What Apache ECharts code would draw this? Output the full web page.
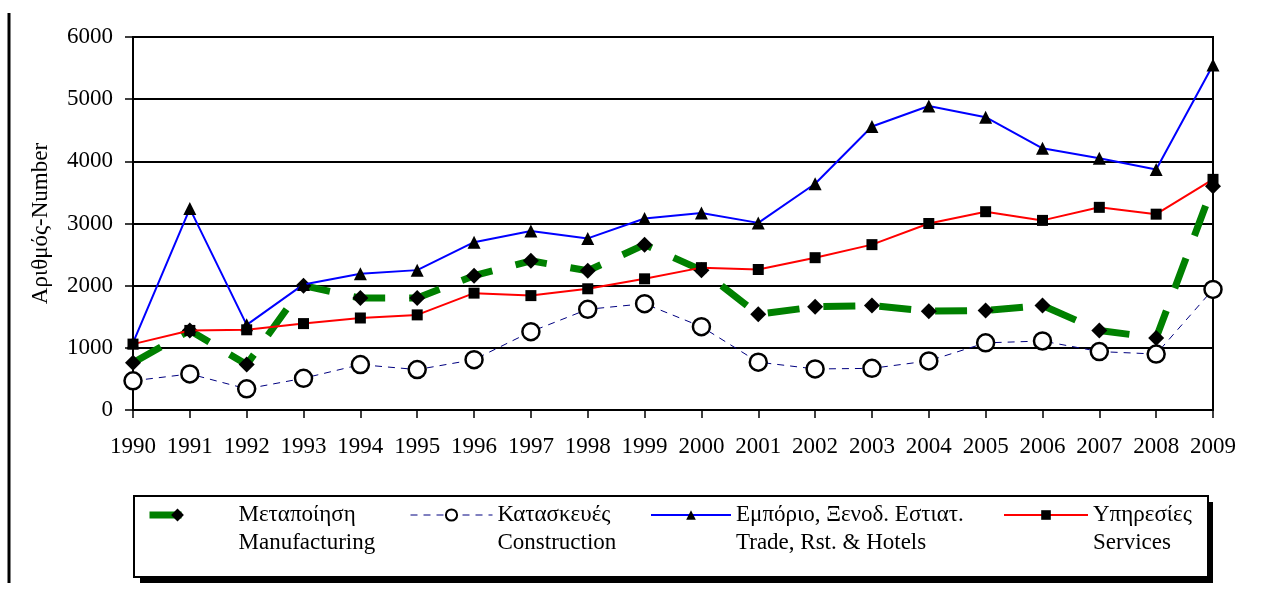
<!DOCTYPE html>
<html>
<head>
<meta charset="utf-8">
<script src="https://cdn.jsdelivr.net/npm/echarts@6/dist/echarts.min.js"></script>
<style>
html,body{margin:0;padding:0;background:#fff;}
#c{width:1268px;height:590px;}
</style>
</head>
<body>
<div id="c"></div>
<script>
const years = ['1990','1991','1992','1993','1994','1995','1996','1997','1998','1999','2000','2001','2002','2003','2004','2005','2006','2007','2008','2009'];
const manufacturing = [760,1280,730,2000,1800,1800,2160,2400,2240,2660,2250,1540,1660,1680,1590,1600,1680,1280,1160,3600];
const construction = [470,580,340,510,730,650,810,1260,1620,1710,1340,770,660,670,790,1080,1110,940,900,1940];
const trade = [1080,3240,1370,2020,2190,2250,2700,2880,2760,3080,3170,3010,3640,4560,4890,4710,4210,4050,3870,5550];
const services = [1060,1280,1290,1390,1480,1530,1880,1840,1950,2110,2290,2260,2450,2660,3000,3190,3050,3260,3150,3710];
const yTicks = [0,1000,2000,3000,4000,5000,6000];

const names = {
  m: 'Μεταποίηση\nManufacturing',
  c: 'Κατασκευές\nConstruction',
  t: 'Εμπόριο, Ξενοδ. Εστιατ.\nTrade, Rst. & Hotels',
  s: 'Υπηρεσίες\nServices'
};
const FONT = 'Liberation Serif';
const chart = echarts.init(document.getElementById('c'));

function legendCfg(name, left, w, padLeft, lw, ih) {
  return {
    data: [name],
    left: left,
    top: 473,
    padding: 0,
    itemWidth: w,
    itemHeight: ih,
    selectedMode: false,
    lineStyle: { width: lw },
    formatter: n => '\u00a0\n' + n,
    textStyle: {
      fontFamily: FONT, fontSize: 23, color: '#000', lineHeight: 28,
      padding: [0, 0, 0, padLeft]
    }
  };
}

chart.setOption({
  animation: false,
  backgroundColor: '#fff',
  grid: { left: 133, right: 55, top: 37, bottom: 180, show: true, borderColor: '#000', borderWidth: 2, backgroundColor: 'transparent' },
  xAxis: {
    type: 'category', data: years, boundaryGap: false,
    axisLine: { lineStyle: { color: '#000', width: 2 } },
    axisTick: { show: true, length: 8, lineStyle: { color: '#000', width: 1.5 } },
    axisLabel: { fontFamily: FONT, fontSize: 23, color: '#000', margin: 25, interval: 0 },
    splitLine: { show: false }
  },
  yAxis: {
    type: 'value', min: 0, max: 6000, interval: 1000,
    name: 'Αριθμός-Number', nameLocation: 'middle', nameGap: 81,
    nameTextStyle: { fontFamily: FONT, fontSize: 23, color: '#000' },
    axisLine: { show: true, lineStyle: { color: '#000', width: 2 } },
    axisTick: { show: true, length: 8, lineStyle: { color: '#000', width: 1.5 } },
    axisLabel: { fontFamily: FONT, fontSize: 23, color: '#000', margin: 20,
      formatter: v => String(v) },
    splitLine: { show: true, lineStyle: { color: '#000', width: 2 } }
  },
  legend: [
    legendCfg(names.m, 146, 56, 28, 7, 16),
    legendCfg(names.c, 410, 82, 0, 1, 14),
    legendCfg(names.t, 650, 80, 0, 2, 12),
    legendCfg(names.s, 1003, 84, 0, 2, 12)
  ],
  graphic: [
    { type: 'line', z: 100, shape: { x1: 9, y1: 13, x2: 9, y2: 583 }, style: { stroke: '#000', lineWidth: 3 } },
    { type: 'rect', z: -10, shape: { x: 140, y: 502, width: 1073, height: 81 }, style: { fill: '#000' } },
    { type: 'rect', z: -9, shape: { x: 134, y: 496, width: 1074, height: 81 }, style: { fill: '#fff', stroke: '#000', lineWidth: 2 } }
  ],
  series: [
    {
      name: names.m, type: 'line', data: manufacturing, z: 3,
      symbol: 'diamond', symbolSize: 16,
      itemStyle: { color: '#000', borderWidth: 0 },
      lineStyle: { color: '#008000', width: 7, type: [32, 24], cap: 'butt' }
    },
    {
      name: names.c, type: 'line', data: construction, z: 4,
      symbol: 'circle', symbolSize: 17,
      itemStyle: { color: '#fff', borderColor: '#000', borderWidth: 2.5 },
      lineStyle: { color: '#000080', width: 1, type: [7, 6] }
    },
    {
      name: names.t, type: 'line', data: trade, z: 5,
      symbol: 'triangle', symbolSize: 13,
      itemStyle: { color: '#000', borderWidth: 0 },
      lineStyle: { color: '#0000ff', width: 2 }
    },
    {
      name: names.s, type: 'line', data: services, z: 6,
      symbol: 'rect', symbolSize: 11,
      itemStyle: { color: '#000', borderWidth: 0 },
      lineStyle: { color: '#ff0000', width: 2 }
    }
  ]
});
</script>
</body>
</html>
